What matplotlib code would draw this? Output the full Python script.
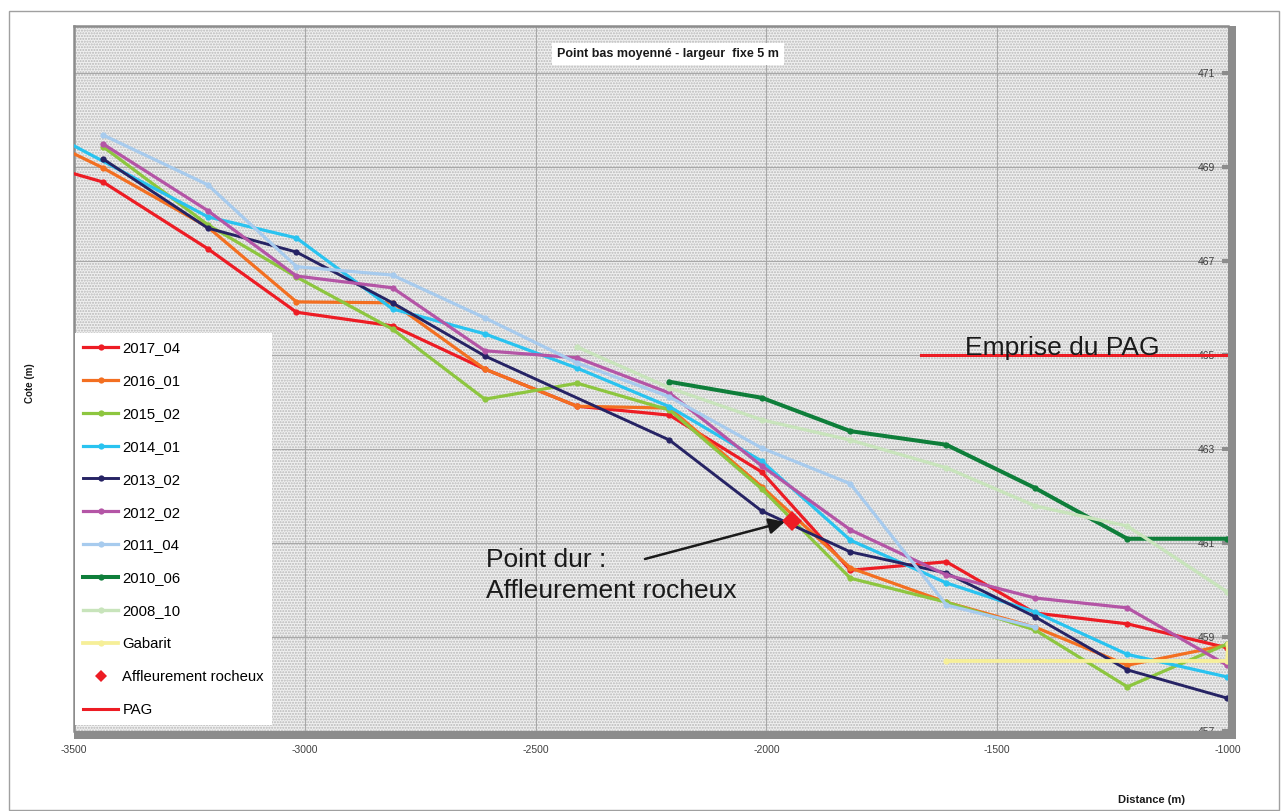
import matplotlib
matplotlib.use('Agg')
import matplotlib.pyplot as plt
from matplotlib.lines import Line2D
from matplotlib.patches import Rectangle

plt.rcParams['font.family'] = ['Liberation Sans', 'DejaVu Sans']
plt.rcParams['hatch.linewidth'] = 1.0

# ---------------- data ----------------
labels = ['2017_04', '2016_01', '2015_02', '2014_01', '2013_02', '2012_02',
          '2011_04', '2010_06', '2008_10', 'Gabarit']
colors = ['#ed1c24', '#f36f21', '#8dc63f', '#29c3f0', '#262364', '#b455a6',
          '#a7cbee', '#0e7e3a', '#c8e4bb', '#f6ef98']

x_2017_04 = [-3640, -3437, -3210, -3018, -2810, -2610, -2410, -2210, -2010, -1818, -1610, -1418, -1218, -1002]
y_2017_04 = [469.25, 468.68, 467.26, 465.91, 465.62, 464.70, 463.91, 463.72, 462.51, 460.42, 460.60, 459.51, 459.28, 458.77]

x_2016_01 = [-3640, -3437, -3210, -3018, -2810, -2610, -2410, -2210, -2010, -1818, -1610, -1418, -1218, -1002]
y_2016_01 = [469.95, 468.98, 467.72, 466.13, 466.11, 464.70, 463.91, 463.87, 462.20, 460.47, 459.74, 459.21, 458.40, 458.83]

x_2015_02 = [-3437, -3210, -3018, -2810, -2610, -2410, -2210, -2010, -1818, -1610, -1418, -1218, -1002]
y_2015_02 = [469.43, 467.77, 466.66, 465.55, 464.06, 464.40, 463.83, 462.15, 460.25, 459.74, 459.15, 457.94, 458.85]

x_2014_01 = [-3640, -3210, -3018, -2810, -2610, -2410, -2210, -2010, -1818, -1610, -1418, -1218, -1002]
y_2014_01 = [470.18, 467.94, 467.49, 465.98, 465.45, 464.72, 463.90, 462.74, 461.06, 460.15, 459.53, 458.63, 458.15]

x_2013_02 = [-3437, -3210, -3018, -2810, -2610, -2210, -2010, -1818, -1610, -1418, -1218, -1002]
y_2013_02 = [469.17, 467.70, 467.19, 466.11, 464.98, 463.19, 461.68, 460.81, 460.36, 459.43, 458.30, 457.70]

x_2012_02 = [-3437, -3210, -3018, -2810, -2610, -2410, -2210, -2010, -1818, -1610, -1418, -1218, -1002]
y_2012_02 = [469.49, 468.07, 466.68, 466.43, 465.09, 464.94, 464.19, 462.64, 461.28, 460.32, 459.83, 459.62, 458.40]

x_2011_04 = [-3437, -3210, -3018, -2810, -2610, -2410, -2210, -2010, -1818, -1610, -1418]
y_2011_04 = [469.68, 468.62, 466.88, 466.70, 465.79, 464.83, 464.11, 463.02, 462.26, 459.68, 459.21]

x_2010_06 = [-2210, -2010, -1818, -1610, -1418, -1218, -1002]
y_2010_06 = [464.43, 464.09, 463.38, 463.09, 462.17, 461.09, 461.09]

x_2008_10 = [-2410, -2210, -2010, -1818, -1610, -1418, -1218, -1002]
y_2008_10 = [465.17, 464.30, 463.62, 463.19, 462.60, 461.79, 461.36, 459.96]

x_gabarit = [-1610, -1002, -1000]
y_gabarit = [458.49, 458.49, 458.85]

x_pag = [-1665, -1000]
y_pag = [465.0, 465.0]

x_rock = [-1944]
y_rock = [461.47]

xs = [x_2017_04, x_2016_01, x_2015_02, x_2014_01, x_2013_02, x_2012_02,
      x_2011_04, x_2010_06, x_2008_10, x_gabarit]
ys = [y_2017_04, y_2016_01, y_2015_02, y_2014_01, y_2013_02, y_2012_02,
      y_2011_04, y_2010_06, y_2008_10, y_gabarit]
widths = [2.3, 2.3, 2.3, 2.3, 2.1, 2.3, 2.3, 2.9, 2.4, 2.7]

x_ticks = [-3500, -3000, -2500, -2000, -1500, -1000]
y_ticks = [457, 459, 461, 463, 465, 467, 469, 471]

# ---------------- figure ----------------
W, H = 1283, 811
fig = plt.figure(figsize=(W / 100, H / 100), dpi=100)


def fx(px):
    return px / W


def fy(py):
    return 1 - py / H


L, R, T, B = 74, 1228, 26, 731
ax = fig.add_axes([fx(L), fy(B), (R - L) / W, (B - T) / H])
ax.set_xlim(-3500, -1000)
ax.set_ylim(457, 472)

# dotted background
ax.set_facecolor('#f0f0f0')
ax.add_patch(Rectangle((0, 0), 1, 1, transform=ax.transAxes, facecolor='none',
                       edgecolor='#b8b8b8', hatch='......', lw=0, zorder=0))

ax.set_xticks(x_ticks)
ax.set_yticks(y_ticks)
ax.set_xticklabels([str(v) for v in x_ticks])
ax.set_yticklabels([str(v) for v in y_ticks])
ax.grid(True, color='#a8a8a8', lw=0.8, zorder=1)
ax.set_axisbelow(True)
ax.yaxis.tick_right()
ax.tick_params(axis='y', direction='in', length=4, width=3, color='#8c8c8c',
               labelcolor='#404040', labelsize=7.5, pad=-22)
ax.tick_params(axis='x', length=0, labelcolor='#404040', labelsize=7.5, pad=10)

for side in ['top', 'left']:
    ax.spines[side].set_color('#8c8c8c')
    ax.spines[side].set_linewidth(1.8)
for side in ['right', 'bottom']:
    ax.spines[side].set_visible(False)

handles = []
for i, (lab, c) in enumerate(zip(labels, colors)):
    ln, = ax.plot(xs[i], ys[i], color=c, lw=widths[i], marker='o', markersize=4.5,
                  markeredgewidth=0, label=lab, zorder=3 + i * 0.1, solid_joinstyle='round')
    handles.append(ln)

rock, = ax.plot(x_rock, y_rock, linestyle='none', marker='D', markersize=10,
                color='#ed1c24', markeredgewidth=0, zorder=6)
pag, = ax.plot(x_pag, y_pag, color='#ed1c24', lw=2.2, zorder=5)

# annotations
ax.text(-1570, 465.0, 'Emprise du PAG', fontsize=19, color='#1a1a1a',
        va='baseline', ha='left', zorder=7)
ax.text(-2607, 460.49, 'Point dur :', fontsize=19, color='#1a1a1a',
        va='baseline', ha='left', zorder=7)
ax.text(-2607, 459.83, 'Affleurement rocheux', fontsize=19, color='#1a1a1a',
        va='baseline', ha='left', zorder=7)
ax.annotate('', xy=(-1960, 461.45), xytext=(-2263, 460.66),
            arrowprops=dict(arrowstyle='-|>', color='#1a1a1a', lw=1.8,
                            mutation_scale=24, shrinkA=0, shrinkB=0), zorder=7)

# legend
leg_handles = handles + [
    Line2D([], [], linestyle='none', marker='D', markersize=6, color='#ed1c24', markeredgewidth=0),
    Line2D([], [], color='#ed1c24', lw=2.2),
]
leg_labels = labels + ['Affleurement rocheux', 'PAG']
leg = ax.legend(leg_handles, leg_labels, loc='upper left',
                bbox_to_anchor=(0.0008, (B - 333) / (B - T)), borderaxespad=0,
                fontsize=10.7, handlelength=2.35, handletextpad=0.3,
                labelspacing=1.27, borderpad=0.55, fancybox=False,
                framealpha=1, facecolor='white', edgecolor='white',
                numpoints=1)
leg.set_zorder(10)
leg.get_frame().set_linewidth(0)

# thick shadow spines (bottom and right)
fig.add_artist(Rectangle((fx(L), fy(739)), (1236 - L) / W, 8 / H,
                         transform=fig.transFigure, facecolor='#8c8c8c', lw=0))
fig.add_artist(Rectangle((fx(R), fy(739)), 8 / W, (739 - T) / H,
                         transform=fig.transFigure, facecolor='#8c8c8c', lw=0))

# title box
fig.text(fx(557), fy(54), 'Point bas moyenné - largeur  fixe 5 m', fontsize=9.0,
         weight='bold', color='#1a1a1a', va='center', ha='left',
         bbox=dict(facecolor='white', edgecolor='none', pad=3.5))

# axis titles
fig.text(fx(30), fy(383), 'Cote (m)', rotation=90, fontsize=7, weight='bold',
         color='#1a1a1a', ha='center', va='center')
fig.text(fx(1152), fy(800), 'Distance (m)', fontsize=8, weight='bold',
         color='#1a1a1a', ha='center', va='center')

# outer frame
fig.add_artist(Rectangle((fx(9), fy(810)), (1279 - 9) / W, (810 - 11) / H,
                         transform=fig.transFigure, fill=False,
                         edgecolor='#a0a0a0', lw=1))

fig.savefig('out.png', dpi=100)
